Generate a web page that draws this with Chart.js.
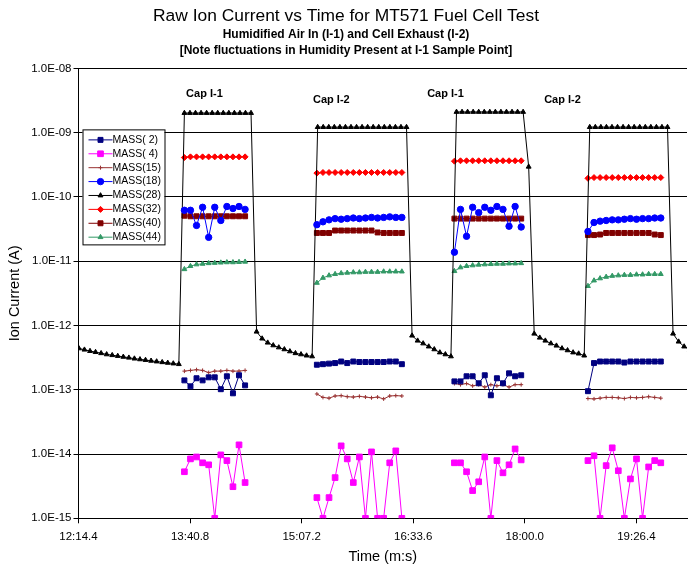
<!DOCTYPE html>
<html>
<head>
<meta charset="utf-8">
<script src="https://cdn.jsdelivr.net/npm/chart.js@4.4.0/dist/chart.umd.min.js"></script>
<style>
  html, body { margin: 0; padding: 0; background: #fff; }
</style>
</head>
<body>
<canvas id="chart" width="692" height="572"></canvas>
<script>
// axis ticks (x in seconds, shown as m:s)
const xTickValues = [734.4, 820.8, 907.2, 993.6, 1080.0, 1166.4];
const xTickLabels = ['12:14.4', '13:40.8', '15:07.2', '16:33.6', '18:00.0', '19:26.4'];
const yTickValues = [1e-15, 1e-14, 1e-13, 1e-12, 1e-11, 1e-10, 1e-9, 1e-8];
const yTickLabels = ['1.0E-15', '1.0E-14', '1.0E-13', '1.0E-12', '1.0E-11', '1.0E-10', '1.0E-09', '1.0E-08'];

const seriesLabels = ['MASS( 2)', 'MASS( 4)', 'MASS(15)', 'MASS(18)', 'MASS(28)', 'MASS(32)', 'MASS(40)', 'MASS(44)'];

// scan times (s) during the four capture windows
const capTimes = [
    [816.4, 821.1, 825.8, 830.5, 835.2, 839.9, 844.6, 849.3, 854.0, 858.7, 863.4],
    [919.0, 923.7, 928.4, 933.1, 937.8, 942.5, 947.2, 951.9, 956.6, 961.3, 966.0, 970.7, 975.4, 980.1, 984.8],
    [1025.5, 1030.2, 1034.9, 1039.6, 1044.3, 1049.0, 1053.7, 1058.4, 1063.1, 1067.8, 1072.5, 1077.2],
    [1128.9, 1133.6, 1138.3, 1143.0, 1147.7, 1152.4, 1157.1, 1161.8, 1166.5, 1171.2, 1175.9, 1180.6, 1185.3]
];

const mass2 = [
    [1.40e-13, 1.13e-13, 1.51e-13, 1.40e-13, 1.56e-13, 1.56e-13, 1.02e-13, 1.62e-13, 8.8e-14, 1.68e-13, 1.17e-13],
    [2.45e-13, 2.5e-13, 2.55e-13, 2.6e-13, 2.75e-13, 2.6e-13, 2.75e-13, 2.7e-13, 2.7e-13, 2.7e-13, 2.7e-13, 2.7e-13, 2.75e-13, 2.75e-13, 2.5e-13],
    [1.35e-13, 1.35e-13, 1.62e-13, 1.62e-13, 1.26e-13, 1.68e-13, 8.2e-14, 1.51e-13, 1.26e-13, 1.80e-13, 1.62e-13, 1.68e-13],
    [9.5e-14, 2.6e-13, 2.75e-13, 2.75e-13, 2.75e-13, 2.75e-13, 2.65e-13, 2.75e-13, 2.75e-13, 2.75e-13, 2.75e-13, 2.75e-13, 2.75e-13]
];
const mass4 = [
    [5.3e-15, 8.4e-15, 9.0e-15, 7.3e-15, 6.8e-15, 1e-15, 9.7e-15, 7.9e-15, 3.1e-15, 1.39e-14, 3.6e-15],
    [2.1e-15, 1e-15, 2.1e-15, 4.3e-15, 1.34e-14, 8.4e-15, 3.6e-15, 9.0e-15, 1e-15, 1.08e-14, 1e-15, 1e-15, 7.3e-15, 1.12e-14, 1e-15],
    [7.3e-15, 7.3e-15, 5.3e-15, 2.7e-15, 3.7e-15, 9.0e-15, 1e-15, 7.9e-15, 5.1e-15, 6.8e-15, 1.2e-14, 8.1e-15],
    [7.9e-15, 9.4e-15, 1e-15, 6.6e-15, 1.25e-14, 5.5e-15, 1e-15, 4.1e-15, 8.4e-15, 1e-15, 6.3e-15, 7.9e-15, 7.3e-15]
];
const mass15 = [
    [1.95e-13, 2.0e-13, 2.05e-13, 2.0e-13, 1.85e-13, 1.95e-13, 1.95e-13, 2.0e-13, 1.95e-13, 1.95e-13, 2.0e-13],
    [8.6e-14, 7.6e-14, 7.4e-14, 8.0e-14, 8.1e-14, 7.8e-14, 7.7e-14, 7.9e-14, 7.7e-14, 7.5e-14, 7.7e-14, 7.2e-14, 8.0e-14, 8.1e-14, 8.0e-14],
    [1.25e-13, 1.2e-13, 1.25e-13, 1.15e-13, 1.2e-13, 1.1e-13, 1.2e-13, 1.15e-13, 1.2e-13, 1.1e-13, 1.2e-13, 1.2e-13],
    [7.3e-14, 7.2e-14, 7.4e-14, 7.6e-14, 7.6e-14, 7.5e-14, 7.3e-14, 7.6e-14, 7.5e-14, 7.6e-14, 7.8e-14, 7.6e-14, 7.4e-14]
];
const mass18 = [
    [6.2e-11, 6.2e-11, 3.6e-11, 6.9e-11, 2.35e-11, 6.9e-11, 4.3e-11, 7.1e-11, 6.6e-11, 7.1e-11, 6.4e-11],
    [3.7e-11, 4.1e-11, 4.4e-11, 4.6e-11, 4.5e-11, 4.6e-11, 4.7e-11, 4.6e-11, 4.7e-11, 4.8e-11, 4.7e-11, 4.8e-11, 4.9e-11, 4.8e-11, 4.8e-11],
    [1.38e-11, 6.4e-11, 2.44e-11, 6.9e-11, 5.7e-11, 6.9e-11, 6.2e-11, 7.1e-11, 6.4e-11, 3.5e-11, 7.1e-11, 3.4e-11],
    [2.9e-11, 4.0e-11, 4.2e-11, 4.3e-11, 4.4e-11, 4.4e-11, 4.5e-11, 4.6e-11, 4.5e-11, 4.6e-11, 4.6e-11, 4.7e-11, 4.7e-11]
];
const mass32 = [
    [4.1e-10, 4.2e-10, 4.2e-10, 4.2e-10, 4.2e-10, 4.2e-10, 4.2e-10, 4.2e-10, 4.2e-10, 4.2e-10, 4.2e-10],
    [2.35e-10, 2.4e-10, 2.4e-10, 2.4e-10, 2.4e-10, 2.4e-10, 2.4e-10, 2.4e-10, 2.4e-10, 2.4e-10, 2.4e-10, 2.4e-10, 2.4e-10, 2.4e-10, 2.4e-10],
    [3.6e-10, 3.65e-10, 3.65e-10, 3.65e-10, 3.65e-10, 3.65e-10, 3.65e-10, 3.65e-10, 3.65e-10, 3.65e-10, 3.65e-10, 3.65e-10],
    [1.95e-10, 2.0e-10, 2.0e-10, 2.0e-10, 2.0e-10, 2.0e-10, 2.0e-10, 2.0e-10, 2.0e-10, 2.0e-10, 2.0e-10, 2.0e-10, 2.0e-10]
];
const mass40 = [
    [5.1e-11, 5.0e-11, 5.0e-11, 5.0e-11, 5.0e-11, 5.0e-11, 5.0e-11, 5.0e-11, 5.0e-11, 5.0e-11, 5.0e-11],
    [2.75e-11, 2.75e-11, 2.75e-11, 3.0e-11, 3.0e-11, 3.0e-11, 3.0e-11, 3.0e-11, 3.0e-11, 3.0e-11, 2.8e-11, 2.75e-11, 2.75e-11, 2.75e-11, 2.75e-11],
    [4.6e-11, 4.6e-11, 4.6e-11, 4.6e-11, 4.6e-11, 4.6e-11, 4.6e-11, 4.6e-11, 4.6e-11, 4.6e-11, 4.6e-11, 4.6e-11],
    [2.55e-11, 2.55e-11, 2.6e-11, 2.75e-11, 2.75e-11, 2.75e-11, 2.75e-11, 2.75e-11, 2.75e-11, 2.75e-11, 2.75e-11, 2.6e-11, 2.55e-11]
];
const mass44 = [
    [7.5e-12, 8.4e-12, 8.9e-12, 9.1e-12, 9.3e-12, 9.4e-12, 9.5e-12, 9.6e-12, 9.6e-12, 9.7e-12, 9.8e-12],
    [4.6e-12, 5.5e-12, 6.0e-12, 6.3e-12, 6.5e-12, 6.6e-12, 6.7e-12, 6.7e-12, 6.8e-12, 6.8e-12, 6.8e-12, 6.9e-12, 6.9e-12, 6.9e-12, 6.9e-12],
    [7.0e-12, 8.0e-12, 8.4e-12, 8.6e-12, 8.8e-12, 8.9e-12, 9.0e-12, 9.1e-12, 9.1e-12, 9.2e-12, 9.2e-12, 9.3e-12],
    [4.1e-12, 5.0e-12, 5.4e-12, 5.7e-12, 5.9e-12, 6.0e-12, 6.1e-12, 6.1e-12, 6.2e-12, 6.2e-12, 6.3e-12, 6.3e-12, 6.3e-12]
];

// MASS(28) is logged the whole run, caps and purges
const mass28Times = [
    734.7, 739.0, 743.3, 747.6, 751.9, 756.2, 760.5, 764.8, 769.1, 773.4, 777.7, 782.0, 786.3, 790.6, 794.9, 799.2, 803.5, 807.8, 812.1,
    816.4, 820.7, 825.0, 829.3, 833.6, 837.9, 842.2, 846.5, 850.8, 855.1, 859.4, 863.7, 868.0,
    872.3, 876.6, 880.9, 885.2, 889.5, 893.8, 898.1, 902.4, 906.7, 911.0, 915.3,
    919.6, 923.9, 928.2, 932.5, 936.8, 941.1, 945.4, 949.7, 954.0, 958.3, 962.6, 966.9, 971.2, 975.5, 979.8, 984.1, 988.4,
    992.7, 997.0, 1001.3, 1005.6, 1009.9, 1014.2, 1018.5, 1022.8,
    1027.1, 1031.4, 1035.7, 1040.0, 1044.3, 1048.6, 1052.9, 1057.2, 1061.5, 1065.8, 1070.1, 1074.4, 1078.7, 1083.0,
    1087.3, 1091.6, 1095.9, 1100.2, 1104.5, 1108.8, 1113.1, 1117.4, 1121.7, 1126.0,
    1130.3, 1134.6, 1138.9, 1143.2, 1147.5, 1151.8, 1156.1, 1160.4, 1164.7, 1169.0, 1173.3, 1177.6, 1181.9, 1186.2, 1190.5,
    1194.8, 1199.1, 1203.4, 1207.7
];
const mass28Values = [
    4.4e-13, 4.2e-13, 4.0e-13, 3.85e-13, 3.7e-13, 3.55e-13, 3.45e-13, 3.35e-13, 3.25e-13, 3.15e-13, 3.05e-13, 2.97e-13, 2.9e-13, 2.82e-13, 2.75e-13, 2.68e-13, 2.62e-13, 2.56e-13, 2.5e-13,
    2.02e-9, 2.02e-9, 2.02e-9, 2.02e-9, 2.02e-9, 2.02e-9, 2.02e-9, 2.02e-9, 2.02e-9, 2.02e-9, 2.02e-9, 2.02e-9, 2.02e-9,
    8.0e-13, 6.25e-13, 5.4e-13, 4.9e-13, 4.55e-13, 4.25e-13, 3.95e-13, 3.7e-13, 3.55e-13, 3.4e-13, 3.3e-13,
    1.22e-9, 1.22e-9, 1.22e-9, 1.22e-9, 1.22e-9, 1.22e-9, 1.22e-9, 1.22e-9, 1.22e-9, 1.22e-9, 1.22e-9, 1.22e-9, 1.22e-9, 1.22e-9, 1.22e-9, 1.22e-9, 1.22e-9,
    6.95e-13, 5.8e-13, 5.25e-13, 4.7e-13, 4.25e-13, 3.8e-13, 3.55e-13, 3.3e-13,
    2.1e-9, 2.1e-9, 2.1e-9, 2.1e-9, 2.1e-9, 2.1e-9, 2.1e-9, 2.1e-9, 2.1e-9, 2.1e-9, 2.1e-9, 2.1e-9, 2.1e-9, 2.95e-10,
    7.45e-13, 6.45e-13, 5.8e-13, 5.25e-13, 4.85e-13, 4.4e-13, 4.1e-13, 3.8e-13, 3.65e-13, 3.4e-13,
    1.22e-9, 1.22e-9, 1.22e-9, 1.22e-9, 1.22e-9, 1.22e-9, 1.22e-9, 1.22e-9, 1.22e-9, 1.22e-9, 1.22e-9, 1.22e-9, 1.22e-9, 1.22e-9, 1.22e-9,
    7.45e-13, 5.6e-13, 4.7e-13, 4.2e-13
];

// text notes over each capture window
const capNoteTexts = ['Cap I-1', 'Cap I-2', 'Cap I-1', 'Cap I-2'];
const capNoteTimes = [817.7, 916.0, 1004.4, 1095.0];
const capNoteLevels = [4.0e-9, 3.2e-9, 4.0e-9, 3.2e-9];

const FONT = '"Liberation Sans", Arial, sans-serif';
Chart.defaults.font.family = FONT;
Chart.defaults.color = '#000';

// join the four windows, with a null between them so the line breaks
function capPoints(caps) {
    const pts = [];
    caps.forEach((vals, c) => {
        vals.forEach((v, i) => pts.push({ x: capTimes[c][i], y: v }));
        pts.push({ x: capTimes[c][vals.length - 1] + 1, y: null });
    });
    return pts;
}

function series(label, data, color, style, radius) {
    return {
        label: label,
        data: data,
        borderColor: color,
        backgroundColor: color,
        pointBackgroundColor: color,
        pointBorderColor: color,
        borderWidth: 1,
        pointStyle: style,
        pointRadius: radius,
        pointBorderWidth: 1,
        tension: 0,
        spanGaps: false
    };
}

const capLabelsPlugin = {
    id: 'capLabels',
    afterDatasetsDraw(chart) {
        const ctx = chart.ctx;
        const xs = chart.scales.x, ys = chart.scales.y;
        ctx.save();
        ctx.font = 'bold 11px ' + FONT;
        ctx.fillStyle = '#000';
        ctx.textAlign = 'left';
        ctx.textBaseline = 'middle';
        capNoteTexts.forEach((t, i) => {
            ctx.fillText(t, xs.getPixelForValue(capNoteTimes[i]), ys.getPixelForValue(capNoteLevels[i]));
        });
        ctx.restore();
    }
};

const boxLegendPlugin = {
    id: 'boxLegend',
    afterDraw(chart) {
        const ctx = chart.ctx;
        const area = chart.chartArea;
        const left = area.left + 4, top = area.top + 61, w = 82, h = 115, rowH = 13.9;
        ctx.save();
        ctx.fillStyle = '#fff';
        ctx.fillRect(left, top, w, h);
        ctx.strokeStyle = '#000';
        ctx.lineWidth = 1;
        ctx.strokeRect(left + 0.5, top + 0.5, w, h);
        chart.data.datasets.forEach((ds, i) => {
            const y = top + 10.5 + i * rowH;
            ctx.strokeStyle = ds.borderColor;
            ctx.lineWidth = 1;
            ctx.beginPath();
            ctx.moveTo(left + 6, y);
            ctx.lineTo(left + 30, y);
            ctx.stroke();
            ctx.fillStyle = ds.pointBackgroundColor;
            ctx.strokeStyle = ds.pointBorderColor;
            Chart.helpers.drawPoint(ctx, { pointStyle: ds.pointStyle, radius: ds.pointRadius, borderWidth: 1, rotation: 0 }, left + 18, y);
            ctx.fillStyle = '#000';
            ctx.font = '10.5px ' + FONT;
            ctx.textAlign = 'left';
            ctx.textBaseline = 'middle';
            ctx.fillText(ds.label, left + 30, y);
        });
        ctx.restore();
    }
};

const ctx = document.getElementById('chart');
new Chart(ctx, {
    type: 'line',
    data: {
        datasets: [
            series(seriesLabels[0], capPoints(mass2), '#000080', 'rect', 3.5),
            series(seriesLabels[1], capPoints(mass4), '#FF00FF', 'rect', 4),
            series(seriesLabels[2], capPoints(mass15), '#993333', 'cross', 2),
            series(seriesLabels[3], capPoints(mass18), '#0000FF', 'circle', 3.2),
            series(seriesLabels[4], mass28Times.map((t, i) => ({ x: t, y: mass28Values[i] })), '#000000', 'triangle', 2.8),
            series(seriesLabels[5], capPoints(mass32), '#FF0000', 'rectRot', 3),
            series(seriesLabels[6], capPoints(mass40), '#800000', 'rect', 3.5),
            series(seriesLabels[7], capPoints(mass44), '#339966', 'triangle', 2.8)
        ]
    },
    options: {
        responsive: false,
        animation: false,
        devicePixelRatio: 1,
        layout: { padding: 0 },
        plugins: {
            legend: { display: false },
            tooltip: { enabled: false },
            title: {
                display: true,
                text: 'Raw Ion Current vs Time for MT571 Fuel Cell Test',
                font: { size: 17.4, weight: 'normal', lineHeight: 1.2 },
                color: '#000',
                padding: { top: 6, bottom: 0 }
            },
            subtitle: {
                display: true,
                text: ['Humidified Air In (I-1) and Cell Exhaust (I-2)', '[Note fluctuations in Humidity Present at I-1 Sample Point]'],
                font: { size: 12, weight: 'bold', lineHeight: 1.3 },
                color: '#000',
                padding: { top: 0, bottom: 10.3 }
            }
        },
        scales: {
            x: {
                type: 'linear',
                min: 734.4,
                max: 1205.6,
                afterBuildTicks: axis => { axis.ticks = xTickValues.map(v => ({ value: v })); },
                afterFit: s => { s.height = 53.7; },
                ticks: {
                    callback: (v, i) => xTickLabels[i],
                    font: { size: 11.5 },
                    color: '#000',
                    maxRotation: 0,
                    autoSkip: false,
                    padding: 7
                },
                grid: { drawOnChartArea: false, drawTicks: true, tickLength: 5, color: '#000' },
                border: { color: '#000', width: 1 },
                title: {
                    display: true,
                    text: 'Time (m:s)',
                    font: { size: 14.5 },
                    color: '#000',
                    padding: { top: 0, bottom: 6.3 }
                }
            },
            y: {
                type: 'logarithmic',
                min: 1e-15,
                max: 1e-8,
                afterBuildTicks: axis => { axis.ticks = yTickValues.map(v => ({ value: v })); },
                afterFit: s => { s.width = 78.5; },
                ticks: {
                    callback: (v, i) => yTickLabels[i],
                    font: { size: 11.5 },
                    color: '#000',
                    autoSkip: false,
                    padding: 2
                },
                grid: { color: '#000', tickLength: 5 },
                border: { color: '#000', width: 1 },
                title: {
                    display: true,
                    text: 'Ion Current (A)',
                    font: { size: 14.5 },
                    color: '#000',
                    padding: { top: 6.3, bottom: 0 }
                }
            }
        }
    },
    plugins: [capLabelsPlugin, boxLegendPlugin]
});
</script>
</body>
</html>
